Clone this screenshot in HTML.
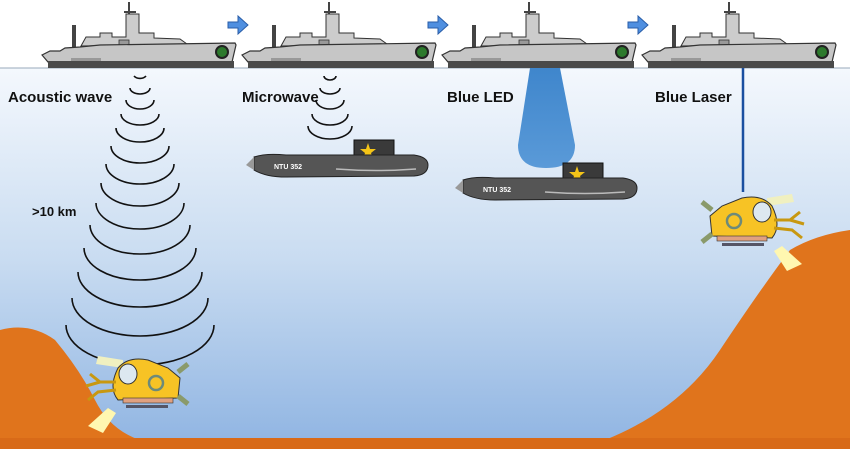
<!DOCTYPE html>
<html><head><meta charset="utf-8"><style>
body{margin:0;background:#fff}
svg{display:block}
text{font-family:"Liberation Sans",sans-serif;font-weight:bold;fill:#111}
</style></head><body>
<svg width="850" height="449" viewBox="0 0 850 449" xmlns="http://www.w3.org/2000/svg">
<defs>
<linearGradient id="w" x1="0" y1="0" x2="0" y2="1">
<stop offset="0" stop-color="#f4f8fd"/><stop offset="0.5" stop-color="#c9dcf1"/><stop offset="1" stop-color="#8fb4e2"/>
</linearGradient>
<linearGradient id="beam" x1="0" y1="0" x2="0" y2="1">
<stop offset="0" stop-color="#3f86cc"/><stop offset="1" stop-color="#5a9ad8"/>
</linearGradient>
<g id="ship">
<rect x="88" y="2" width="2" height="14" fill="#444"/>
<rect x="84" y="11" width="12" height="2" fill="#444"/>
<rect x="32" y="25" width="4" height="24" fill="#444"/>
<polygon points="41,46 46,37 60,37 60,33 72,33 72,37 86,37 86,14 99,14 99,33 114,33 114,38 140,39 147,44" fill="#ccc" stroke="#333" stroke-width="1"/>
<rect x="79" y="40" width="10" height="8" fill="#999" stroke="#333" stroke-width="0.8"/>
<polygon points="2,55 10,51 20,51 25,48 40,47 60,45 195,43 196,45 192,62 8,62" fill="#c6c6c6" stroke="#333" stroke-width="1.2"/>
<rect x="31" y="58" width="30" height="3" fill="#999"/>
<rect x="8" y="61" width="186" height="7" fill="#4a4a4a"/>
<circle cx="182" cy="52" r="6" fill="#2d7a2d" stroke="#222" stroke-width="2"/>
</g>
<polygon id="arr" points="0,6 10,6 10,0 20,9 10,18 10,12 0,12" fill="#4f8fe0" stroke="#2a5ea8" stroke-width="1"/>
<g id="sub">
<rect x="108" y="-15" width="40" height="18" fill="#3a3a3a" stroke="#111"/>
<polygon points="122,-12 124,-6 130,-6 125,-2 127,4 122,0 117,4 119,-2 114,-6 120,-6" fill="#f5c518"/>
<path d="M8,2 Q20,-2 40,0 L168,0 Q182,2 182,10 Q182,20 168,21 L40,22 Q20,22 8,15 Z" fill="#555" stroke="#222"/>
<path d="M8,2 L8,15 L0,10 Z" fill="#999"/>
<path d="M90,14 Q130,17 170,14" stroke="#bbb" stroke-width="1.5" fill="none"/>
<text x="28" y="14" font-size="7" style="fill:#fff">NTU 352</text>
</g>
<g id="ysub">
<polygon points="45,-18 20,-22 18,-14 45,-10" fill="#f0f0c0"/>
<polygon points="30,30 10,48 25,55 38,35" fill="#fff7b0"/>
<path d="M40,-10 Q50,-22 70,-18 L90,-10 L102,0 L100,20 L40,22 Q30,10 40,-10 Z" fill="#f7c325" stroke="#333"/>
<ellipse cx="50" cy="-4" rx="9" ry="10" fill="#dde8f0" stroke="#333"/>
<circle cx="78" cy="5" r="7" fill="none" stroke="#6d8a7a" stroke-width="2.5"/>
<rect x="45" y="20" width="50" height="5" fill="#e0a080" stroke="#333" stroke-width="0.6"/>
<rect x="48" y="27" width="42" height="3" fill="#556"/>
<path d="M100,-6 l10,-8 M100,18 l10,8" stroke="#8a9a6a" stroke-width="5"/>
<path d="M38,4 L22,4 L12,-4 M38,12 L20,14 L10,22 M22,4 L8,8" stroke="#c89810" stroke-width="3" fill="none"/>
</g>
</defs>
<rect width="850" height="449" fill="#fff"/>
<rect x="0" y="68" width="850" height="381" fill="url(#w)"/>
<line x1="0" y1="68" x2="850" y2="68" stroke="#9ab" stroke-width="1"/>
<path d="M0,330 Q30,322 55,340 Q80,370 95,400 Q110,430 140,440 L0,440 Z" fill="#e0741c"/>
<path d="M605,440 Q680,410 720,350 Q760,290 790,250 Q815,235 850,230 L850,440 Z" fill="#e0741c"/>
<rect x="0" y="438" width="850" height="11" fill="#d86a18"/>
<use href="#ship" x="40" y="0"/><use href="#ship" x="240" y="0"/><use href="#ship" x="440" y="0"/><use href="#ship" x="640" y="0"/>
<use href="#arr" x="228" y="16"/><use href="#arr" x="428" y="16"/><use href="#arr" x="628" y="16"/>
<g fill="none" stroke="#111" stroke-width="1.6">
<path d="M134,76 A7,5 0 0 0 146,76"/>
<path d="M130,88 A10,6 0 0 0 150,88"/>
<path d="M126,100 A14,9 0 0 0 154,100"/>
<path d="M121,114 A19,11 0 0 0 159,114"/>
<path d="M116,128 A24,14 0 0 0 164,128"/>
<path d="M111,146 A29,17 0 0 0 169,146"/>
<path d="M106,164 A34,20 0 0 0 174,164"/>
<path d="M101,183 A39,23 0 0 0 179,183"/>
<path d="M96,203 A44,26 0 0 0 184,203"/>
<path d="M90,225 A50,29 0 0 0 190,225"/>
<path d="M84,248 A56,32 0 0 0 196,248"/>
<path d="M78,272 A62,35 0 0 0 202,272"/>
<path d="M72,298 A68,38 0 0 0 208,298"/>
<path d="M66,325 A74,40 0 0 0 214,325"/>
<path d="M324,76 A6,4 0 0 0 336,76"/>
<path d="M320,88 A10,6 0 0 0 340,88"/>
<path d="M316,100 A14,9 0 0 0 344,100"/>
<path d="M312,114 A18,11 0 0 0 348,114"/>
<path d="M308,126 A22,13 0 0 0 352,126"/>
</g>
<path d="M530,68 L560,68 L575,145 Q575,168 546,168 Q518,168 518,145 Z" fill="url(#beam)"/>
<line x1="743" y1="68" x2="743" y2="192" stroke="#1a4fa0" stroke-width="2.5"/>
<use href="#sub" x="246" y="155"/>
<use href="#sub" x="455" y="178"/>
<use href="#ysub" x="78" y="378"/>
<g transform="translate(812,216) scale(-1,1)"><use href="#ysub"/></g>
<text x="8" y="102" font-size="15">Acoustic wave</text>
<text x="242" y="102" font-size="15">Microwave</text>
<text x="447" y="102" font-size="15">Blue LED</text>
<text x="655" y="102" font-size="15">Blue Laser</text>
<text x="32" y="216" font-size="13">&gt;10 km</text>
</svg>
</body></html>
